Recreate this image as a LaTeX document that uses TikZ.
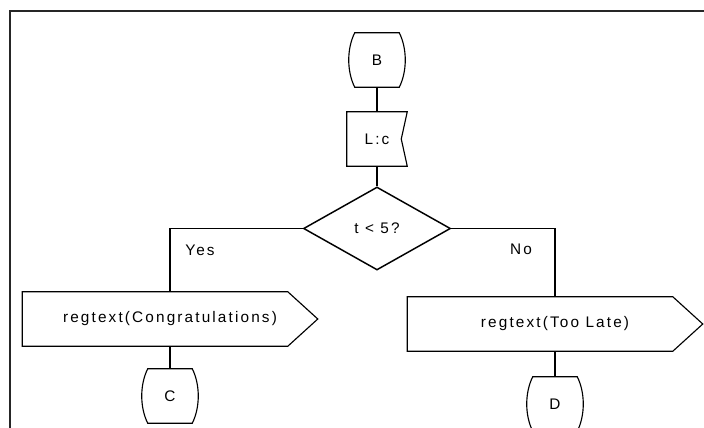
\documentclass[tikz,border=0pt]{standalone}
\usepackage{fontspec}
\setmainfont{Liberation Sans}[LetterSpace=14]
\usetikzlibrary{shapes.geometric}

\tikzset{
  thinline/.style={line width=0.85pt},
  barrel/.style={minimum width=33pt,minimum height=40.5pt,inner sep=0pt,
    append after command={\pgfextra{\draw[thinline]
      (\tikzlastnode.north west) -- (\tikzlastnode.north east)
      .. controls +(8,16) and +(8,-16) .. (\tikzlastnode.south east)
      -- (\tikzlastnode.south west)
      .. controls +(-8,-16) and +(-8,16) .. cycle;}}},
  tagbox/.style={minimum width=45pt,minimum height=40.5pt,inner sep=0pt,
    append after command={\pgfextra{\draw[thinline]
      (\tikzlastnode.north east) -- (\tikzlastnode.north west)
      -- (\tikzlastnode.south west) -- (\tikzlastnode.south east)
      -- ([xshift=-4.5pt]\tikzlastnode.east) -- cycle;}}},
  signalbox/.style={minimum width=221.25pt,minimum height=40.5pt,inner sep=0pt,
    append after command={\pgfextra{\draw[thinline]
      (\tikzlastnode.north west) -- ([xshift=-22.5pt]\tikzlastnode.north east)
      -- (\tikzlastnode.east) -- ([xshift=-22.5pt]\tikzlastnode.south east)
      -- (\tikzlastnode.south west) -- cycle;}}}
}

\begin{document}
\begin{tikzpicture}[x=0.75pt,y=-0.75pt,font=\fontsize{11.5}{14}\selectfont]

  \useasboundingbox (0,0) rectangle (704,428);
  \clip (0,0) rectangle (704,428);

  \draw[line width=1.4pt,black!85] (10,428) |- (704,11);

  \begin{scope}[every node/.style={}]
    \node[barrel] (b) at (377,60) {B};
    \node[tagbox] (lc) at (377,139) {L:c};
    \node[diamond,draw,line width=1.1pt,minimum width=110.25pt,minimum height=62.25pt,inner sep=0pt] (test) at (377,228.5) {t < 5?};
    \node[signalbox] (cong) at (170,319) {regtext(Congratulations)};
    \node[signalbox] (late) at (555,324) {regtext(Too Late)};
    \node[barrel] (c) at (170,396) {C};
    \node[barrel] (d) at (555,404) {D};
  \end{scope}

  \begin{scope}[every node/.style={inner sep=0pt}]
    \node (yes) at (200,250) {Yes};
    \node (no) at (521,249) {No};
  \end{scope}

  \begin{scope}[thinline]
    \draw (b) -- (lc);
    \draw (lc) -- (test);
    \draw (test.west) -| (cong);
    \draw (test.east) -| (late);
    \draw (cong) -- (c);
    \draw (late) -- (d);
  \end{scope}

\end{tikzpicture}
\end{document}
